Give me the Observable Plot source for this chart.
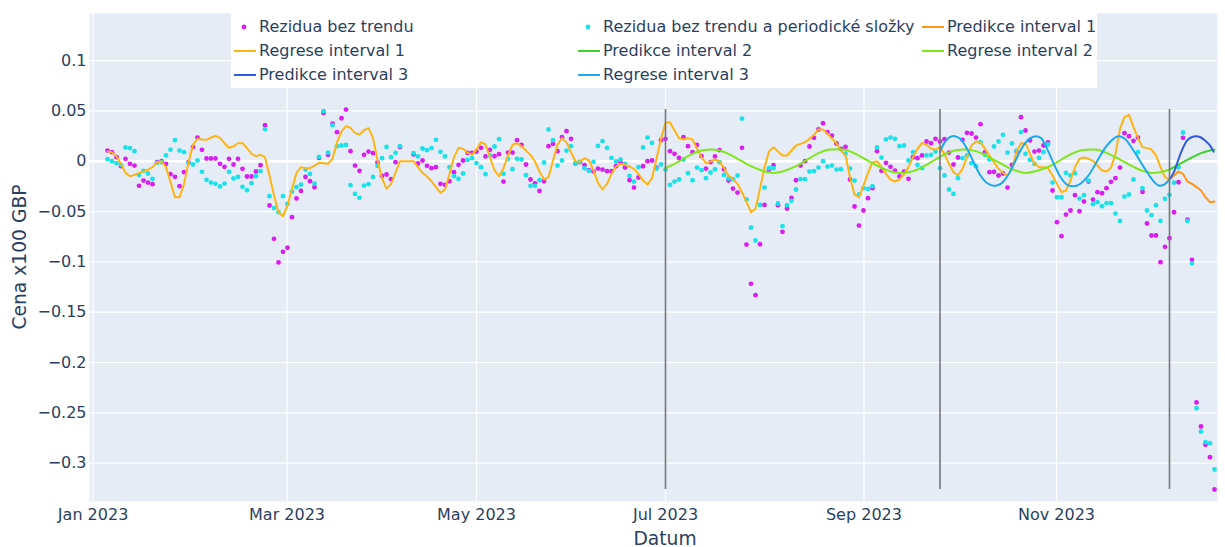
<!DOCTYPE html>
<html>
<head>
<meta charset="utf-8">
<script src="https://cdn.jsdelivr.net/npm/d3@7"></script>
<script src="https://cdn.jsdelivr.net/npm/@observablehq/plot@0.6"></script>
<style>
  body { margin: 0; background: #fff; }
  #wrap { position: relative; width: 1225px; height: 547px; font-family: "DejaVu Sans", Verdana, sans-serif; color: #2a3f5f; }
  #legend { position: absolute; left: 231px; top: 13px; width: 866px; height: 75px; background: #fff; }
  .item { position: absolute; height: 20px; line-height: 20px; font-size: 16px; white-space: nowrap; display: flex; align-items: center; }
  .item svg { margin-right: 2px; }
  .title { position: absolute; font-size: 18.7px; white-space: nowrap; }
</style>
</head>
<body>
<div id="wrap">
  <div id="chart"></div>
  <div id="legend"></div>
  <div class="title" style="left:19px;top:257px;transform:translate(-50%,-50%) rotate(-90deg);">Cena x100 GBP</div>
  <div class="title" style="left:665px;top:538px;transform:translate(-50%,-50%);">Datum</div>
</div>
<script>
// ---- data (trading-day index i along the x axis) ----
const resid = [
0.0106,0.0090,0.0040,-0.0049,0.0024,-0.0026,-0.0043,-0.0245,-0.0192,-0.0212,
-0.0228,-0.0010,0.0000,-0.0026,-0.0129,-0.0155,-0.0248,-0.0109,-0.0010,0.0140,
0.0235,0.0113,0.0027,0.0027,0.0027,-0.0026,-0.0056,0.0024,-0.0033,0.0024,
-0.0076,-0.0152,-0.0152,-0.0102,-0.0039,0.0358,-0.0440,-0.0771,-0.1006,-0.0900,
-0.0860,-0.0556,-0.0370,-0.0295,-0.0156,-0.0199,-0.0259,0.0033,0.0480,0.0063,
0.0374,0.0288,0.0427,0.0513,0.0100,-0.0043,-0.0096,0.0063,0.0096,0.0080,
-0.0013,-0.0146,-0.0132,-0.0179,-0.0010,0.0140,null,null,0.0067,-0.0023,
0.0007,-0.0046,-0.0069,-0.0059,-0.0225,-0.0235,-0.0199,-0.0109,-0.0036,0.0007,
0.0083,0.0083,0.0096,0.0133,0.0047,0.0113,0.0050,0.0070,-0.0202,0.0086,
0.0086,0.0209,0.0163,-0.0033,-0.0182,-0.0220,-0.0295,-0.0199,0.0149,0.0172,
0.0100,0.0238,0.0298,0.0222,-0.0023,-0.0010,-0.0040,-0.0089,-0.0102,-0.0073,
-0.0083,-0.0099,-0.0099,-0.0050,-0.0010,-0.0063,-0.0189,-0.0262,-0.0162,-0.0050,
0.0000,0.0007,-0.0063,0.0209,0.0222,0.0100,0.0073,0.0033,0.0238,0.0149,
0.0090,0.0163,0.0050,-0.0073,-0.0010,0.0047,0.0110,-0.0080,-0.0192,-0.0272,
-0.0312,0.0133,-0.0828,-0.1218,-0.1331,-0.0825,-0.0434,-0.0086,-0.0040,-0.0437,
-0.0702,-0.0470,-0.0364,-0.0189,-0.0043,0.0000,0.0146,0.0232,0.0315,0.0377,
0.0288,0.0255,0.0176,0.0123,0.0143,-0.0182,-0.0450,-0.0640,-0.0490,-0.0367,
-0.0268,0.0100,-0.0096,-0.0016,-0.0056,-0.0093,-0.0152,-0.0103,-0.0175,0.0040,
0.0030,0.0057,0.0196,0.0179,0.0222,0.0196,0.0219,0.0086,-0.0033,0.0037,
0.0212,0.0282,0.0275,0.0235,0.0368,0.0090,-0.0109,-0.0106,-0.0142,-0.0122,
-0.0262,-0.0036,0.0096,0.0437,0.0305,0.0206,0.0096,0.0106,0.0156,0.0186,
-0.0291,-0.0606,-0.0745,-0.0530,-0.0490,-0.0338,-0.0497,-0.0401,-0.0202,-0.0381,
-0.0308,-0.0318,-0.0268,-0.0205,-0.0169,-0.0063,0.0278,0.0248,0.0202,0.0235,
-0.0305,-0.0619,-0.0738,-0.0738,-0.1003,-0.0851,-0.0765,-0.0507,-0.0209,0.0232,
-0.0580,-0.0980,-0.2397,-0.2636,-0.2818,-0.2941,-0.3262
];
const residNoPeriod = [
0.0020,0.0000,-0.0020,-0.0036,0.0136,0.0130,0.0100,-0.0135,-0.0096,-0.0122,
-0.0175,-0.0016,-0.0010,0.0057,0.0116,0.0209,0.0106,0.0090,-0.0016,-0.0033,
0.0007,-0.0106,-0.0185,-0.0212,-0.0225,-0.0251,-0.0222,-0.0106,-0.0172,-0.0156,
-0.0255,-0.0288,-0.0218,-0.0149,-0.0099,0.0318,-0.0347,-0.0466,-0.0506,-0.0347,
-0.0424,-0.0300,-0.0258,-0.0232,-0.0083,-0.0126,-0.0222,0.0043,0.0497,0.0086,
0.0358,0.0149,0.0156,0.0162,-0.0238,-0.0325,-0.0364,-0.0242,-0.0228,-0.0156,
-0.0046,0.0030,0.0142,0.0040,0.0083,0.0149,null,null,0.0080,0.0047,
0.0126,0.0110,0.0130,0.0212,0.0093,0.0047,-0.0060,-0.0149,-0.0175,-0.0122,
0.0013,0.0030,-0.0020,-0.0059,-0.0129,0.0057,0.0146,0.0219,-0.0126,0.0024,
-0.0080,0.0024,0.0017,-0.0139,-0.0245,-0.0245,-0.0189,-0.0013,0.0315,0.0209,
-0.0043,0.0007,0.0106,0.0149,-0.0023,-0.0006,-0.0069,-0.0096,-0.0006,0.0152,
0.0199,0.0133,0.0033,-0.0003,0.0017,-0.0026,-0.0146,-0.0202,-0.0059,0.0136,
0.0235,0.0182,-0.0073,-0.0033,-0.0083,-0.0235,-0.0202,-0.0182,0.0017,-0.0119,
-0.0189,-0.0063,-0.0089,-0.0169,-0.0112,-0.0080,-0.0010,-0.0136,-0.0172,-0.0179,
-0.0142,0.0424,-0.0380,-0.0660,-0.0788,-0.0434,-0.0262,-0.0069,-0.0069,-0.0420,
-0.0646,-0.0437,-0.0394,-0.0281,-0.0179,-0.0179,-0.0103,-0.0099,-0.0063,0.0000,
-0.0053,-0.0043,-0.0083,-0.0080,0.0076,-0.0073,-0.0192,-0.0331,-0.0268,-0.0275,
-0.0248,0.0136,0.0036,0.0216,0.0235,0.0222,0.0149,0.0156,0.0007,0.0090,
-0.0036,-0.0069,0.0057,0.0063,0.0096,-0.0069,-0.0142,-0.0281,-0.0325,-0.0169,
0.0030,0.0057,-0.0020,-0.0049,0.0189,0.0063,0.0017,0.0146,0.0196,0.0262,
0.0086,0.0176,0.0103,0.0288,0.0073,0.0013,-0.0026,0.0033,0.0090,0.0166,
-0.0212,-0.0358,-0.0358,-0.0116,-0.0142,-0.0119,-0.0371,-0.0338,-0.0192,-0.0427,
-0.0407,-0.0447,-0.0417,-0.0417,-0.0520,-0.0593,-0.0351,-0.0331,-0.0182,0.0090,
-0.0268,-0.0490,-0.0536,-0.0437,-0.0593,-0.0374,-0.0334,-0.0212,-0.0060,0.0285,
-0.0593,-0.1016,-0.2454,-0.2686,-0.2792,-0.2802,-0.3063
];
const regrese1 = [
0.0096,0.0090,0.0047,-0.0026,-0.0116,-0.0149,-0.0136,-0.0116,-0.0103,-0.0083,
-0.0059,-0.0013,0.0000,-0.0059,-0.0208,-0.0358,-0.0358,-0.0225,-0.0010,0.0163,
0.0222,0.0215,0.0212,0.0235,0.0252,0.0232,0.0179,0.0133,0.0146,0.0179,
0.0179,0.0130,0.0073,0.0050,0.0063,0.0040,-0.0142,-0.0341,-0.0507,-0.0547,
-0.0440,-0.0275,-0.0116,-0.0059,-0.0069,-0.0069,-0.0043,-0.0016,-0.0020,-0.0026,
0.0024,0.0189,0.0295,0.0348,0.0332,0.0279,0.0265,0.0308,0.0328,0.0232,
0.0007,-0.0169,-0.0275,-0.0225,-0.0116,0.0000,null,null,0.0000,-0.0059,
-0.0116,-0.0152,-0.0199,-0.0258,-0.0315,-0.0281,-0.0126,0.0040,0.0133,0.0123,
0.0083,0.0068,0.0116,0.0189,0.0166,0.0040,-0.0092,-0.0149,-0.0069,0.0057,
0.0163,0.0179,0.0149,0.0106,0.0063,-0.0003,-0.0102,-0.0182,-0.0159,0.0007,
0.0163,0.0229,0.0189,0.0090,-0.0003,-0.0003,0.0030,0.0007,-0.0092,-0.0215,
-0.0281,-0.0225,-0.0126,-0.0053,-0.0026,-0.0036,-0.0053,-0.0076,-0.0126,-0.0192,
-0.0232,-0.0169,0.0024,0.0222,0.0380,0.0388,0.0305,0.0229,0.0216,0.0229,
0.0216,0.0123,0.0040,-0.0020,-0.0003,0.0017,-0.0003,-0.0069,-0.0142,-0.0175,
-0.0225,-0.0308,-0.0407,-0.0506,-0.0473,-0.0275,-0.0059,0.0096,0.0140,0.0096,
0.0057,0.0057,0.0106,0.0156,0.0172,0.0189,0.0222,0.0262,0.0315,0.0315,
0.0272,0.0222,0.0179,0.0106,0.0057,-0.0159,-0.0332,-0.0358,-0.0242,-0.0116,
-0.0010,0.0000,-0.0059,-0.0126,-0.0182,-0.0202,-0.0182,-0.0132,-0.0059,0.0040,
0.0123,0.0182,0.0163,0.0123,0.0116,0.0139,0.0073,-0.0026,-0.0109,-0.0142,
-0.0076,0.0040,0.0156,0.0196,0.0189,0.0123,0.0057,-0.0010,-0.0076,-0.0116,
-0.0142,-0.0076,0.0090,0.0179,0.0179,0.0073,-0.0026,-0.0059,-0.0059,-0.0069,
-0.0142,-0.0225,-0.0308,-0.0291,-0.0192,-0.0059,0.0024,0.0037,0.0024,0.0003,
-0.0043,-0.0092,-0.0102,-0.0066,0.0073,0.0321,0.0437,0.0461,0.0338,0.0229,
0.0140,0.0130,0.0116,0.0057,-0.0059,-0.0159,-0.0182
];
const predikce1Idx = [236,237,238,239,240,241,242,243,244,245,246];
const predikce1 = [-0.0182,-0.0142,-0.0103,-0.0126,-0.0202,-0.0225,-0.0258,-0.0291,-0.0358,-0.0407,-0.0401];

const regrese2Idx = [124,126,128,130,132,134,136,138,140,142,144,146,148,150,152,154,156,158,160,162,164,166,168,170,172,174,176,178,180,182,184,186,188,190,192,194,196,198,200,202,204,206,208,210,212,214,216,218,220,222,224,226,228,230,232,234,236];
const regrese2 = [-0.0069,-0.0026,0.0024,0.0073,0.0106,0.0116,0.0106,0.0073,0.0024,-0.0026,-0.0069,-0.0102,-0.0116,-0.0102,-0.0069,-0.0026,0.0030,0.0080,0.0113,0.0120,0.0113,0.0078,0.0030,-0.0020,-0.0066,-0.0102,-0.0116,-0.0109,-0.0083,-0.0036,0.0017,0.0067,0.0103,0.0116,0.0110,0.0083,0.0037,-0.0010,-0.0059,-0.0096,-0.0116,-0.0102,-0.0075,-0.0036,0.0017,0.0067,0.0103,0.0116,0.0113,0.0083,0.0040,-0.0010,-0.0056,-0.0096,-0.0116,-0.0109,-0.0083];
const predikce2Idx = [236,237,239,241,243,245,246];
const predikce2 = [-0.0083,-0.0059,-0.0010,0.0037,0.0080,0.0106,0.0113];

const regrese3Idx = [185,186,187,188.3,189.5,191,192.5,194,195.5,197.3,198.8,200.3,201.8,203.3,204.8,206.3,207.5,208.8,210.3,211.8,213.3,215.5,217.7,220,222.1,224.4,225.9,228,230.3,232.5,233.6,234.7,236];
const regrese3 = [0.0096,0.0185,0.0235,0.0249,0.0222,0.0123,-0.0010,-0.0142,-0.0219,-0.0245,-0.0215,-0.0126,0.0007,0.0139,0.0222,0.0249,0.0229,0.0123,-0.0026,-0.0159,-0.0235,-0.0242,-0.0159,0.0007,0.0156,0.0245,0.0229,0.0106,-0.0059,-0.0202,-0.0242,-0.0235,-0.0182];
const predikce3Idx = [236,236.9,237.9,238.9,239.9,240.9,241.9,242.9,243.9,244.9,245.8];
const predikce3 = [-0.0182,-0.0116,0.0007,0.0123,0.0205,0.0238,0.0248,0.0238,0.0205,0.0162,0.0095];

const intervalStarts = [124, 185, 236];
const monthTickIdx = [-3.2, 39.9, 82, 124, 168.1, 210.9];
const monthLabels = ["Jan 2023", "Mar 2023", "May 2023", "Jul 2023", "Sep 2023", "Nov 2023"];
const yTicks = [0.1, 0.05, 0, -0.05, -0.1, -0.15, -0.2, -0.25, -0.3];

// ---- colors ----
const C = {
  resid: "#d81ff0", residNP: "#1ce1e8",
  pred1: "#ff9616", reg1: "#fdb414",
  pred2: "#3dd42a", reg2: "#7fe61a",
  pred3: "#3159e0", reg3: "#1ea9ee"
};

const series = arr => arr.map((v, i) => ({i, v})).filter(d => d.v != null);
const pairs = (idx, vals) => idx.map((i, k) => ({i, v: vals[k]}));
const allVals = resid.concat(residNoPeriod).filter(v => v != null);
const vMin = d3.min(allVals), vMax = d3.max(allVals);

const chart = Plot.plot({
  width: 1225, height: 547,
  marginLeft: 89, marginRight: 8, marginTop: 13, marginBottom: 46,
  style: {background: "transparent", fontFamily: "'DejaVu Sans', Verdana, sans-serif", fontSize: "16px", color: "#2a3f5f"},
  x: {type: "linear", domain: [-4, 246.67], ticks: monthTickIdx, tickFormat: (d, k) => monthLabels[k], tickSize: 0, tickPadding: 7, label: null},
  y: {domain: [-0.3381, 0.14675], ticks: yTicks, tickFormat: d3.format(""), tickSize: 0, tickPadding: 3, label: null},
  marks: [
    Plot.frame({fill: "#E5ECF6", stroke: null}),
    Plot.ruleY(yTicks, {stroke: "#fff", strokeWidth: 1.2}),
    Plot.ruleX(monthTickIdx, {stroke: "#fff", strokeWidth: 1.2}),
    Plot.ruleY([0], {stroke: "#fff", strokeWidth: 2.4}),
    Plot.dot(series(resid), {x: "i", y: "v", r: 2.4, fill: C.resid, stroke: null}),
    Plot.dot(series(residNoPeriod), {x: "i", y: "v", r: 2.4, fill: C.residNP, stroke: null}),
    Plot.line(pairs(predikce1Idx, predikce1), {x: "i", y: "v", stroke: C.pred1, strokeWidth: 2}),
    Plot.line(series(regrese1), {x: "i", y: "v", stroke: C.reg1, strokeWidth: 2}),
    Plot.line(pairs(predikce2Idx, predikce2), {x: "i", y: "v", stroke: C.pred2, strokeWidth: 2, curve: "catmull-rom"}),
    Plot.line(pairs(regrese2Idx, regrese2), {x: "i", y: "v", stroke: C.reg2, strokeWidth: 2, curve: "catmull-rom"}),
    Plot.line(pairs(predikce3Idx, predikce3), {x: "i", y: "v", stroke: C.pred3, strokeWidth: 2, curve: "catmull-rom"}),
    Plot.line(pairs(regrese3Idx, regrese3), {x: "i", y: "v", stroke: C.reg3, strokeWidth: 2, curve: "catmull-rom"}),
    Plot.ruleX(intervalStarts, {y1: vMin, y2: vMax, stroke: "#777", strokeWidth: 1.6})
  ]
});
document.getElementById("chart").appendChild(chart);

// ---- legend ----
const legendItems = [
  {label: "Rezidua bez trendu", color: C.resid, kind: "dot", col: 0, row: 0},
  {label: "Rezidua bez trendu a periodické složky", color: C.residNP, kind: "dot", col: 1, row: 0},
  {label: "Predikce interval 1", color: C.pred1, kind: "line", col: 2, row: 0},
  {label: "Regrese interval 1", color: C.reg1, kind: "line", col: 0, row: 1},
  {label: "Predikce interval 2", color: C.pred2, kind: "line", col: 1, row: 1},
  {label: "Regrese interval 2", color: C.reg2, kind: "line", col: 2, row: 1},
  {label: "Predikce interval 3", color: C.pred3, kind: "line", col: 0, row: 2},
  {label: "Regrese interval 3", color: C.reg3, kind: "line", col: 1, row: 2}
];
const colLeft = [2, 346, 690];
const rowTop = [4, 28, 52];
const legend = document.getElementById("legend");
for (const it of legendItems) {
  const div = document.createElement("div");
  div.className = "item";
  div.style.left = colLeft[it.col] + "px";
  div.style.top = rowTop[it.row] + "px";
  const sym = it.kind === "dot"
    ? `<svg width="24" height="20"><circle cx="11" cy="10" r="2.4" fill="${it.color}"/></svg>`
    : `<svg width="24" height="20"><line x1="1" y1="10" x2="23" y2="10" stroke="${it.color}" stroke-width="2"/></svg>`;
  div.innerHTML = sym + `<span>${it.label}</span>`;
  legend.appendChild(div);
}
</script>
</body>
</html>
